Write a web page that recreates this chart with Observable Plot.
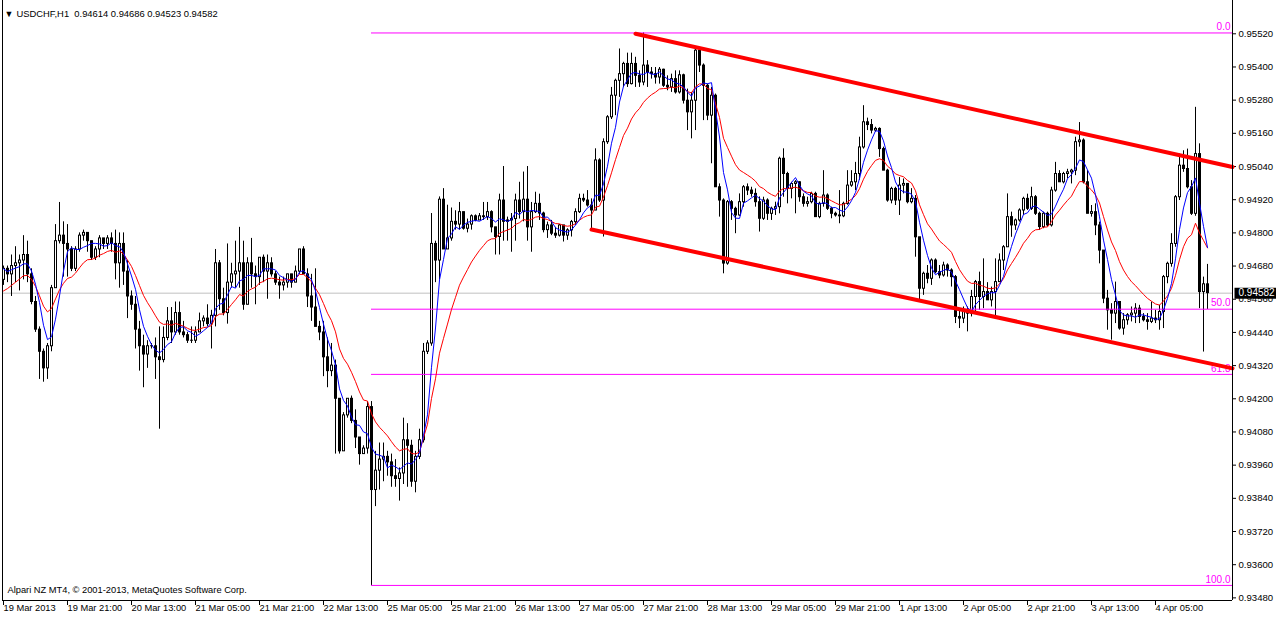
<!DOCTYPE html>
<html><head><meta charset="utf-8">
<script src="https://cdn.jsdelivr.net/npm/d3@7"></script>
<script src="https://cdn.jsdelivr.net/npm/@observablehq/plot@0.6"></script>
<style>html,body{margin:0;padding:0;background:#fff;overflow:hidden}</style>
</head><body><div id="chart"></div>
<script>
// ---- Data (USDCHF H1) ----
const opens = [
0.9463,0.9467,0.9465,0.9468,0.9469,0.9470,0.9472,0.9465,0.9455,0.9445,
0.9437,0.9431,0.9439,0.9460,0.9477,0.9479,0.9476,0.9474,0.9467,0.9474,
0.9479,0.9480,0.9477,0.9471,0.9474,0.9478,0.9476,0.9478,0.9476,0.9469,
0.9476,0.9466,0.9457,0.9454,0.9445,0.9439,0.9436,0.9439,0.9439,0.9435,
0.9434,0.9442,0.9448,0.9444,0.9451,0.9444,0.9443,0.9441,0.9441,0.9444,
0.9448,0.9449,0.9447,0.9450,0.9469,0.9456,0.9451,0.9462,0.9465,0.9466,
0.9469,0.9454,0.9469,0.9465,0.9464,0.9471,0.9466,0.9469,0.9465,0.9462,
0.9461,0.9462,0.9465,0.9462,0.9466,0.9474,0.9465,0.9457,0.9453,0.9446,
0.9444,0.9435,0.9430,0.9432,0.9420,0.9401,0.9414,0.9420,0.9412,0.9406,
0.9400,0.9402,0.9417,0.9387,0.9394,0.9398,0.9399,0.9397,0.9392,0.9391,
0.9393,0.9405,0.9403,0.9390,0.9399,0.9405,0.9437,0.9440,0.9476,0.9470,
0.9492,0.9474,0.9478,0.9484,0.9483,0.94875,0.94815,0.9483,0.9486,0.94845,
0.9486,0.94857,0.94875,0.9482,0.94785,0.94917,0.9484,0.94845,0.9485,0.94917,
0.94875,0.9492,0.9482,0.94875,0.94905,0.9487,0.9481,0.94827,0.94797,0.9479,
0.94827,0.9479,0.94809,0.94839,0.94875,0.94923,0.94917,0.94899,0.94881,0.95062,
0.94917,0.95128,0.95218,0.95296,0.9535,0.95374,0.95411,0.95338,0.95411,0.95368,
0.95344,0.95405,0.9538,0.95374,0.95362,0.9539,0.95332,0.95326,0.95356,0.95308,
0.9537,0.95278,0.95236,0.95278,0.95459,0.95405,0.95332,0.95224,0.95296,0.94965,
0.94917,0.94689,0.94911,0.94887,0.94863,0.94911,0.94965,0.94953,0.94941,0.94911,
0.94851,0.94917,0.94869,0.94887,0.94893,0.95068,0.95013,0.94959,0.94977,0.94983,
0.94929,0.94905,0.94911,0.94941,0.94857,0.94905,0.94935,0.94887,0.94869,0.94863,
0.9486,0.94905,0.94971,0.94983,0.95013,0.95109,0.952,0.9519,0.9517,0.95176,
0.95103,0.95025,0.94917,0.94959,0.94917,0.94971,0.94977,0.94911,0.94923,0.94784,
0.94598,0.94652,0.94634,0.947,0.94658,0.94646,0.94682,0.94664,0.9464,0.94496,
0.9449,0.94514,0.94508,0.94568,0.94622,0.94568,0.94586,0.94556,0.94586,0.94622,
0.947,0.94748,0.94857,0.94827,0.94845,0.94881,0.94923,0.94887,0.94929,0.94869,
0.94821,0.94869,0.94827,0.94953,0.95013,0.94983,0.95013,0.95019,0.95025,0.95128,
0.95134,0.94983,0.94869,0.94875,0.94827,0.94736,0.94562,0.9452,0.94508,0.9455,
0.94454,0.94484,0.94502,0.94508,0.94526,0.94496,0.94484,0.94478,0.9449,0.94484,
0.94514,0.9464,0.94688,0.9476,0.94929,0.95043,0.95031,0.94965,0.94869,0.95085,
0.94586,0.94614];
const highs = [
0.9468,0.9468,0.9472,0.9475,0.9472,0.9479,0.9477,0.9467,0.9457,0.9446,
0.9438,0.9440,0.9461,0.9483,0.9491,0.9484,0.9483,0.9475,0.9475,0.9480,
0.9481,0.9480,0.9477,0.9475,0.9479,0.9478,0.9479,0.9480,0.9481,0.9480,
0.9480,0.9470,0.9459,0.9457,0.9448,0.9443,0.9441,0.9440,0.9442,0.9446,
0.9446,0.9453,0.9453,0.9455,0.9455,0.9448,0.9444,0.9446,0.9446,0.9451,
0.9450,0.9454,0.9452,0.9474,0.9470,0.9460,0.9476,0.9469,0.9477,0.9482,
0.9477,0.9471,0.9478,0.9468,0.9471,0.9472,0.9472,0.9471,0.9466,0.9464,
0.9464,0.9465,0.9465,0.9468,0.9474,0.9475,0.9467,0.9465,0.9467,0.9448,
0.9448,0.9442,0.9440,0.9434,0.9420,0.9415,0.9420,0.9421,0.9416,0.9406,
0.9403,0.9419,0.9419,0.9401,0.9404,0.9404,0.9401,0.9400,0.9398,0.9395,
0.9413,0.9411,0.9405,0.9401,0.9409,0.9440,0.9441,0.9487,0.9477,0.9493,
0.9496,0.9490,0.9489,0.9488,0.9491,0.94875,0.9485,0.94865,0.94865,0.9487,
0.9491,0.9491,0.9488,0.9482,0.9494,0.9504,0.94857,0.9487,0.9494,0.94983,
0.9502,0.9504,0.9491,0.94947,0.9494,0.94875,0.94839,0.94845,0.9482,0.9483,
0.94827,0.94815,0.94845,0.94887,0.9494,0.9494,0.94953,0.94923,0.95104,0.95068,
0.9514,0.95224,0.95326,0.95356,0.95465,0.95417,0.9545,0.9545,0.95435,0.95386,
0.95523,0.95423,0.95398,0.95398,0.95398,0.95392,0.95368,0.95374,0.95386,0.95386,
0.95374,0.9532,0.95308,0.9547,0.95465,0.95411,0.95338,0.95326,0.95302,0.94977,
0.94923,0.94917,0.94917,0.94893,0.94941,0.94971,0.94977,0.94965,0.94959,0.9493,
0.94929,0.94923,0.94893,0.94911,0.95074,0.95104,0.95019,0.94983,0.94989,0.94985,
0.94941,0.94929,0.94947,0.94947,0.94911,0.95025,0.94941,0.94893,0.94875,0.94953,
0.94911,0.95025,0.95025,0.95055,0.95146,0.9526,0.95215,0.9521,0.95182,0.9518,
0.9511,0.9503,0.94965,0.94965,0.95,0.94995,0.94977,0.9496,0.94935,0.94784,
0.94658,0.94682,0.94706,0.94706,0.94682,0.94694,0.94688,0.9467,0.94646,0.94526,
0.94532,0.94532,0.94592,0.94628,0.94658,0.94706,0.9462,0.94604,0.94706,0.94724,
0.94754,0.94941,0.94875,0.9485,0.94887,0.94929,0.9494,0.94965,0.94935,0.94875,
0.94875,0.94875,0.94965,0.95055,0.95025,0.95019,0.9503,0.9503,0.95146,0.95199,
0.9514,0.95025,0.94899,0.94905,0.94839,0.94736,0.94592,0.94544,0.94622,0.9455,
0.94508,0.94508,0.94532,0.94544,0.94538,0.94508,0.94508,0.9455,0.9452,0.94538,
0.94646,0.94694,0.94797,0.94935,0.95085,0.95097,0.95103,0.94989,0.95254,0.95122,
0.9464,0.94686];
const lows = [
0.9461,0.9462,0.9457,0.9462,0.9459,0.9463,0.9462,0.9454,0.9444,0.9427,
0.9426,0.9427,0.9437,0.9460,0.9476,0.9464,0.9464,0.9466,0.9466,0.9473,
0.9477,0.9473,0.9470,0.9470,0.9471,0.9474,0.9474,0.9473,0.9463,0.9460,
0.9461,0.9449,0.9452,0.9438,0.9430,0.9424,0.9431,0.9438,0.9427,0.9409,
0.9433,0.9441,0.9440,0.9443,0.9443,0.9442,0.9440,0.9440,0.9440,0.9444,
0.9446,0.9446,0.9438,0.9446,0.9452,0.9450,0.9447,0.9460,0.9460,0.9460,
0.9452,0.9454,0.9460,0.9454,0.9461,0.9462,0.9456,0.9464,0.9461,0.9456,
0.9459,0.9460,0.9460,0.9462,0.9465,0.9465,0.9453,0.9448,0.9446,0.9441,
0.9428,0.9424,0.9428,0.9400,0.9400,0.9401,0.9413,0.9411,0.9402,0.9396,
0.9400,0.9400,0.93525,0.9381,0.9387,0.9390,0.9392,0.9388,0.9388,0.9383,
0.9389,0.9388,0.9388,0.9386,0.9398,0.9404,0.9436,0.9439,0.9462,0.9463,
0.9474,0.9474,0.9477,0.9481,0.9481,0.9481,0.9480,0.9481,0.9484,0.94845,
0.94845,0.94845,0.9480,0.9472,0.9472,0.9477,0.9477,0.9473,0.9477,0.9485,
0.9484,0.9477,0.9473,0.9487,0.94845,0.9480,0.9478,0.9479,0.9478,0.94785,
0.94767,0.94773,0.94785,0.94827,0.9487,0.9491,0.94893,0.94812,0.9488,0.9491,
0.94785,0.9512,0.9521,0.95224,0.9529,0.95326,0.95326,0.95335,0.95326,0.95326,
0.95332,0.95326,0.95356,0.95338,0.95338,0.95326,0.95314,0.95308,0.95302,0.95302,
0.95266,0.9517,0.9514,0.9517,0.9538,0.95206,0.95206,0.9505,0.94965,0.94857,
0.94652,0.94683,0.94845,0.94797,0.9486,0.94893,0.94935,0.94929,0.94893,0.94803,
0.94845,0.94845,0.94845,0.94863,0.94869,0.94929,0.94905,0.94923,0.94869,0.94911,
0.94893,0.94893,0.94905,0.94857,0.94851,0.94893,0.94881,0.94851,0.94857,0.94833,
0.94855,0.949,0.94965,0.94953,0.9499,0.95103,0.9517,0.95158,0.95164,0.95073,
0.95025,0.94911,0.94905,0.94899,0.94863,0.94941,0.94905,0.94905,0.94712,0.94556,
0.94574,0.94616,0.9461,0.94652,0.94634,0.9464,0.9464,0.94604,0.94472,0.94454,
0.94472,0.94442,0.94496,0.94514,0.9452,0.94526,0.94556,0.94532,0.94496,0.9462,
0.94664,0.94748,0.94784,0.94809,0.94839,0.94863,0.94881,0.94881,0.94863,0.94809,
0.94815,0.94821,0.94821,0.94947,0.94983,0.94977,0.94995,0.94977,0.95007,0.9511,
0.94977,0.94869,0.94857,0.9479,0.94688,0.94544,0.94448,0.94412,0.94472,0.94448,
0.9443,0.94466,0.94478,0.94472,0.94472,0.94478,0.94448,0.94472,0.94472,0.94448,
0.94454,0.94616,0.94676,0.94748,0.94917,0.95019,0.94959,0.94863,0.9486,0.94526,
0.94369,0.94523];
const closes = [
0.9467,0.9465,0.9468,0.9469,0.9470,0.9472,0.9465,0.9455,0.9445,0.9437,
0.9431,0.9439,0.9460,0.9477,0.9479,0.9476,0.9474,0.9467,0.9474,0.9479,
0.9480,0.9477,0.9471,0.9474,0.9478,0.9476,0.9478,0.9476,0.9469,0.9476,
0.9466,0.9457,0.9454,0.9445,0.9439,0.9436,0.9439,0.9439,0.9435,0.9434,
0.9442,0.9448,0.9444,0.9451,0.9444,0.9443,0.9441,0.9441,0.9444,0.9448,
0.9449,0.9447,0.9450,0.9469,0.9456,0.9451,0.9462,0.9465,0.9466,0.9469,
0.9454,0.9469,0.9465,0.9464,0.9471,0.9466,0.9469,0.9465,0.9462,0.9461,
0.9462,0.9465,0.9462,0.9466,0.9474,0.9465,0.9457,0.9453,0.9446,0.9444,
0.9435,0.9430,0.9432,0.9420,0.9401,0.9414,0.9420,0.9412,0.9406,0.9400,
0.9402,0.9417,0.9387,0.9394,0.9398,0.9399,0.9397,0.9392,0.9391,0.9393,
0.9405,0.9403,0.9390,0.9399,0.9405,0.9437,0.9440,0.9476,0.9470,0.9492,
0.9474,0.9478,0.9484,0.9483,0.94875,0.94815,0.9483,0.9486,0.94845,0.9486,
0.94857,0.94875,0.9482,0.94785,0.94917,0.9484,0.94845,0.9485,0.94917,0.94875,
0.9492,0.9482,0.94875,0.94905,0.9487,0.9481,0.94827,0.94797,0.9479,0.94827,
0.9479,0.94809,0.94839,0.94875,0.94923,0.94917,0.94899,0.94881,0.95062,0.94917,
0.95128,0.95218,0.95296,0.9535,0.95374,0.95411,0.95338,0.95411,0.95368,0.95344,
0.95405,0.9538,0.95374,0.95362,0.9539,0.95332,0.95326,0.95356,0.95308,0.9537,
0.95278,0.95236,0.95278,0.95459,0.95405,0.95332,0.95224,0.95296,0.94965,0.94917,
0.94689,0.94911,0.94887,0.94863,0.94911,0.94965,0.94953,0.94941,0.94911,0.94851,
0.94917,0.94869,0.94887,0.94893,0.95068,0.95013,0.94959,0.94977,0.94983,0.94929,
0.94905,0.94911,0.94941,0.94857,0.94905,0.94935,0.94887,0.94869,0.94863,0.9486,
0.94905,0.94971,0.94983,0.95013,0.95109,0.952,0.9519,0.9517,0.95176,0.95103,
0.95025,0.94917,0.94959,0.94917,0.94971,0.94977,0.94911,0.94923,0.94784,0.94598,
0.94652,0.94634,0.947,0.94658,0.94646,0.94682,0.94664,0.9464,0.94496,0.9449,
0.94514,0.94508,0.94568,0.94622,0.94568,0.94586,0.94556,0.94586,0.94622,0.947,
0.94748,0.94857,0.94827,0.94845,0.94881,0.94923,0.94887,0.94929,0.94869,0.94821,
0.94869,0.94827,0.94953,0.95013,0.94983,0.95013,0.95019,0.95025,0.95128,0.95134,
0.94983,0.94869,0.94875,0.94827,0.94736,0.94562,0.9452,0.94508,0.9455,0.94454,
0.94484,0.94502,0.94508,0.94526,0.94496,0.94484,0.94478,0.9449,0.94484,0.94514,
0.9464,0.94688,0.9476,0.94929,0.95043,0.95031,0.94965,0.94869,0.95085,0.94586,
0.94614,0.94582];

const xTickLabels = ["19 Mar 2013","19 Mar 21:00","20 Mar 13:00","21 Mar 05:00","21 Mar 21:00",
"22 Mar 13:00","25 Mar 05:00","25 Mar 21:00","26 Mar 13:00","27 Mar 05:00","27 Mar 21:00",
"28 Mar 13:00","29 Mar 05:00","29 Mar 21:00","1 Apr 13:00","2 Apr 05:00","2 Apr 21:00",
"3 Apr 13:00","4 Apr 05:00"];
const xTickBars = [0,16,32,48,64,80,96,112,128,144,160,176,192,208,224,240,256,272,288];
const yTickValues = [0.9348,0.9360,0.9372,0.9384,0.9396,0.9408,0.9420,0.9432,0.9444,
0.9456,0.9468,0.9480,0.9492,0.9504,0.9516,0.9528,0.9540,0.9552];

const fibLowBar = 92, fibLowPrice = 0.93525;
const fibHighPrice = 0.95523;
const fibLevels = [0, 50, 61.8, 100];
const fibLabels = ["0.0", "50.0", "61.8", "100.0"];

const upperChannel = [{i: 158, p: 0.95520}, {i: 307.25, p: 0.95038}];
const lowerChannel = [{i: 147, p: 0.94812}, {i: 307.25, p: 0.94310}];

const fastPeriod = 5;      // blue MA
const slowPeriod = 13;     // red MA (exponential)
const slowStart = 0.9459;  // red MA value at the first bar

const titleText = "USDCHF,H1  0.94614 0.94686 0.94523 0.94582";
const copyrightText = "Alpari NZ MT4, \u00A9 2001-2013, MetaQuotes Software Corp.";

// ---- Build ----
const W = 1276, H = 618;
const xMin = -0.25, xMax = 307.25;
const yMin = 0.934705, yMax = 0.956404;

const bars = closes.map((c, i) => ({
  i, open: opens[i], high: highs[i], low: lows[i], close: c,
  top: Math.max(opens[i], c), bottom: Math.min(opens[i], c)
}));
let ema = slowStart;
const k = 2 / (slowPeriod + 1);
bars.forEach((d, i) => {
  const s = Math.max(0, i - fastPeriod + 1);
  d.fast = d3.mean(closes.slice(s, i + 1));
  if (i > 0) ema = ema + k * (d.close - ema);
  d.slow = ema;
});
const lastClose = closes[closes.length - 1];
const fibRows = fibLevels.map((l, j) => ({
  label: fibLabels[j],
  p: fibHighPrice - l / 100 * (fibHighPrice - fibLowPrice),
  x1: fibLowBar, x2: xMax
}));
const bullBars = bars.filter(d => d.close - d.open > 0.00005);
const font = "'Liberation Sans', Arial, sans-serif";

const chart = Plot.plot({
  width: W, height: H,
  marginLeft: 2, marginRight: 44, marginTop: 0, marginBottom: 18,
  style: {fontFamily: font, fontSize: "9.6px", background: "white", color: "black", overflow: "visible"},
  x: {domain: [xMin, xMax], axis: "bottom", ticks: xTickBars, tickFormat: () => "", tickSize: 5, label: null},
  y: {domain: [yMin, yMax], axis: "right", ticks: yTickValues, tickFormat: d => d.toFixed(5),
      tickSize: 3, tickPadding: 3, label: null},
  marks: [
    Plot.ruleY([lastClose], {stroke: "#c0c0c0"}),
    Plot.ruleX(bars, {x: "i", y1: "high", y2: "low", stroke: "black"}),
    Plot.ruleX(bars, {x: "i", y1: "top", y2: "bottom", stroke: "black", strokeWidth: 3, insetTop: -0.5, insetBottom: -0.5}),
    Plot.ruleX(bullBars, {x: "i", y1: "top", y2: "bottom", stroke: "white", strokeWidth: 1, insetTop: 0.5, insetBottom: 0.5}),
    Plot.ruleY(fibRows, {y: "p", x1: "x1", x2: "x2", stroke: "#ff00ff"}),
    Plot.line(bars, {x: "i", y: "slow", stroke: "#ff0000", strokeWidth: 1}),
    Plot.line(bars, {x: "i", y: "fast", stroke: "#0000ff", strokeWidth: 1}),
    Plot.text(fibRows, {x: "x2", y: "p", text: "label", textAnchor: "end", dx: -2, dy: -6, fill: "#ff00ff", fontSize: 10}),
    Plot.line(upperChannel, {x: "i", y: "p", stroke: "#ff0000", strokeWidth: 4}),
    Plot.line(lowerChannel, {x: "i", y: "p", stroke: "#ff0000", strokeWidth: 4}),
    Plot.ruleX([xMin], {stroke: "black"}),
    Plot.ruleX([xMax], {stroke: "black"}),
    Plot.ruleY([yMin], {stroke: "black"}),
    Plot.ruleY([lastClose], {x1: xMax + 0.625, x2: xMax + 11, stroke: "black", strokeWidth: 11}),
    Plot.text([lastClose], {x: xMax, y: d => d, text: d => d.toFixed(5), textAnchor: "start", dx: 6, fill: "white", fontSize: 10}),
    Plot.text(xTickBars, {x: d => d, text: (d, j) => xTickLabels[j], frameAnchor: "bottom", textAnchor: "start", dy: 10, fontSize: 9.3}),
    Plot.text([titleText], {text: d => d, frameAnchor: "top-left", dx: 14, dy: 10, textAnchor: "start", fontSize: 9.4}),
    Plot.text(["\u25BC"], {text: d => d, frameAnchor: "top-left", dx: 2, dy: 10, textAnchor: "start", fontSize: 9}),
    Plot.text([copyrightText], {text: d => d, frameAnchor: "bottom-left", dx: 5, dy: -8, textAnchor: "start", fontSize: 9.3})
  ]
});
document.getElementById("chart").appendChild(chart);
</script>
</body></html>
